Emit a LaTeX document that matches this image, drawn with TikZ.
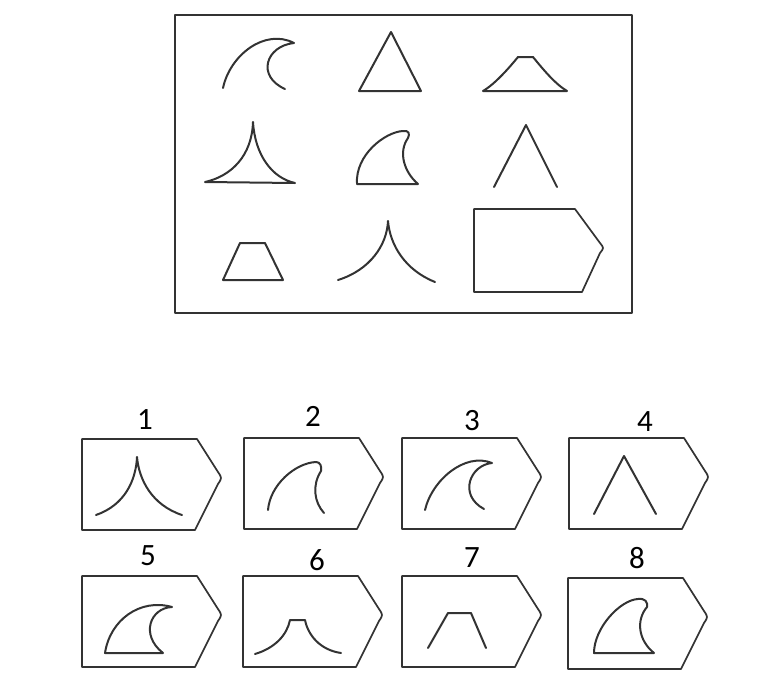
\documentclass[tikz,border=0pt]{standalone}
\usepackage{fontspec}
\setmainfont{Carlito}
\usepackage{tikz}
\usetikzlibrary{positioning}

\begin{document}
\begin{tikzpicture}[x=1pt,y=-1pt,
		figline/.style={line width=2pt,black!80,line join=round,line cap=round},
		framebox/.style={line width=1.7pt,black!80,line join=round},
		numlabel/.style={inner sep=0pt,font=\fontsize{31}{31}\selectfont}]
		\useasboundingbox (0,0) rectangle (764,686);
		% matrix of figures
		\draw[framebox] (175,15) rectangle (632,313);
		\draw[figline] (223,88) .. controls (230,55) and (265,28) .. (294,43) .. controls (266,46) and (256,76) .. (285,89);
		\draw[figline] (391,32) -- (421,91) -- (359,91) -- cycle;
		\draw[figline] (483,91) .. controls (495,84) and (509,68) .. (518,57) -- (533,57) .. controls (542,68) and (555,84) .. (567,91) -- cycle;
		\draw[figline] (205,182) .. controls (232,176) and (252,155) .. (253,122) .. controls (255,155) and (272,178) .. (295,183) -- cycle;
		\draw[figline] (357,184) .. controls (355,155) and (385,132) .. (403,131) .. controls (409,130) and (410,134) .. (408,138) .. controls (398,152) and (404,172) .. (418,184) -- cycle;
		\draw[figline] (494,187) -- (526,125) -- (557,187);
		\draw[figline] (223,280) -- (240,243) -- (265,243) -- (283,280) -- cycle;
		\draw[figline] (338,280) .. controls (370,270) and (387,245) .. (388,221) .. controls (390,245) and (405,270) .. (435,282);
		\draw[framebox] (474,209) -- (575,209) -- (600,243) .. controls (604,248) .. (600,253) -- (582,292) -- (474,292) -- cycle;
		% answer boxes
		\foreach \bx/\by in {82/439,244/438,402/438,569/438,82/576,243/576,402/576,568/578}
		\draw[framebox,shift={(\bx,\by)}] (0,0) -- (115,0) -- (136,33) .. controls (140,39) .. (136,45) -- (113,91) -- (0,91) -- cycle;
		\node[numlabel] (n1) at (145,420) {1};
		\node[numlabel] (n2) at (313,416) {2};
		\node[numlabel] (n3) at (472,421) {3};
		\node[numlabel] (n4) at (645,422) {4};
		\node[numlabel] (n5) at (148,556) {5};
		\node[numlabel] (n6) at (317,560) {6};
		\node[numlabel] (n7) at (472,558) {7};
		\node[numlabel] (n8) at (637,558) {8};
		% answer figures
		\draw[figline] (96,515) .. controls (125,505) and (136,480) .. (137,457) .. controls (139,480) and (152,505) .. (182,515);
		\draw[figline] (268,510) .. controls (270,485) and (295,463) .. (316,462) .. controls (320,462) and (322,466) .. (321,471) .. controls (312,485) and (314,502) .. (324,513);
		\draw[figline] (425,510) .. controls (432,480) and (465,452) .. (492,463) .. controls (470,465) and (458,495) .. (484,509);
		\draw[figline] (594,514) -- (624,456) -- (656,514);
		\draw[figline] (105,653) .. controls (110,620) and (140,598) .. (172,607) .. controls (150,608) and (140,635) .. (163,653) -- cycle;
		\draw[figline] (255,654) .. controls (275,648) and (287,635) .. (290,620) -- (305,620) .. controls (308,635) and (320,650) .. (341,653);
		\draw[figline] (428,648) -- (448,613) -- (471,613) -- (486,648);
		\draw[figline] (594,653) .. controls (594,628) and (620,600) .. (638,599) .. controls (645,598) and (648,602) .. (647,607) .. controls (636,620) and (638,640) .. (654,653) -- cycle;
		\end{tikzpicture}
\end{document}
